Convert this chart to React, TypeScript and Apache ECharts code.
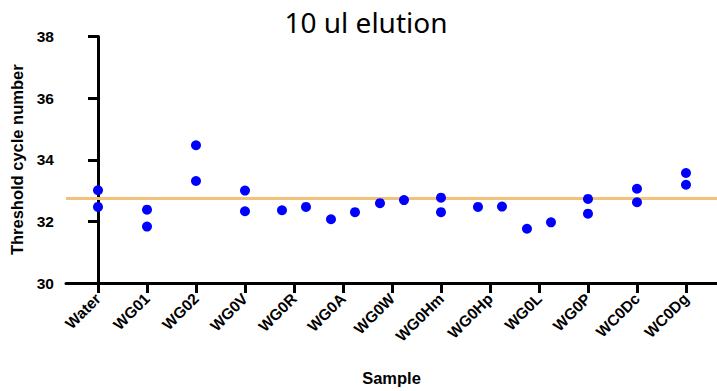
import React, { useEffect, useRef } from "react";
import * as echarts from "echarts";

const categories = ["Water", "WG01", "WG02", "WG0V", "WG0R", "WG0A", "WG0W", "WG0Hm", "WG0Hp", "WG0L", "WG0P", "WC0Dc", "WC0Dg"];
const replicateA = [33.01, 32.38, 34.47, 33.0, 32.36, 32.07, 32.59, 32.77, 32.47, 31.76, 32.73, 33.06, 33.57];
const replicateB = [32.47, 31.83, 33.31, 32.33, 32.47, 32.3, 32.69, 32.3, 32.48, 31.97, 32.25, 32.62, 33.19];
const thresholdValue = 32.76;
const yTicks = [30, 32, 34, 36, 38];

export default function App() {
  const ref = useRef<HTMLDivElement>(null);
  useEffect(() => {
    if (!ref.current) return;
    const chart = echarts.init(ref.current, undefined, { renderer: "svg" });
    const points: number[][] = [];
    const spread = 0.245;
    categories.forEach((_, i) => {
      const a = replicateA[i];
      const b = replicateB[i];
      if (Math.abs(a - b) < 0.35) {
        const lo = Math.min(a, b);
        const hi = Math.max(a, b);
        points.push([i - spread, lo]);
        points.push([i + spread, hi]);
      } else {
        points.push([i, a]);
        points.push([i, b]);
      }
    });
    const idx = categories.map((_, i) => i);
    const bold = { fontFamily: "Liberation Sans", fontWeight: "bold" as const, color: "#000" };
    chart.setOption({
      animation: false,
      title: {
        text: "10 ul elution",
        left: 361,
        textAlign: "center",
        top: 3,
        textStyle: { fontFamily: "Noto Sans", fontWeight: "normal", fontSize: 28, color: "#000" },
      },
      grid: { left: 66, right: 0, top: 36.5, bottom: 107.5, containLabel: false },
      xAxis: {
        type: "value",
        min: -0.653,
        max: 12.633,
        name: "Sample",
        nameLocation: "middle",
        nameGap: 86,
        nameTextStyle: { ...bold, fontSize: 16.5 },
        splitLine: { show: false },
        axisLine: { show: true, lineStyle: { color: "#000", width: 3 } },
        axisTick: { show: true, customValues: idx, length: 10, lineStyle: { color: "#000", width: 3 } },
        axisLabel: {
          customValues: idx,
          rotate: 45,
          margin: 13,
          ...bold,
          fontSize: 15.5,
          formatter: (v: number) => categories[Math.round(v)] ?? "",
        },
      },
      yAxis: {
        type: "value",
        min: 30,
        max: 38,
        interval: 2,
        name: "Threshold cycle number",
        nameLocation: "middle",
        nameGap: 38,
        nameTextStyle: { ...bold, fontSize: 16.5 },
        splitLine: { show: false },
        axisLine: { show: true, lineStyle: { color: "#000", width: 3 } },
        axisTick: { show: true, length: 10, lineStyle: { color: "#000", width: 3 } },
        axisLabel: {
          margin: 12,
          ...bold,
          fontSize: 15.5,
          formatter: (v: number) => (yTicks.includes(v) ? String(v) : ""),
        },
      },
      series: [
        {
          type: "scatter",
          data: points,
          symbol: "circle",
          symbolSize: 10,
          itemStyle: { color: "#0000FF", opacity: 1 },
          z: 3,
          markLine: {
            silent: true,
            symbol: "none",
            label: { show: false },
            lineStyle: { color: "#F2C27A", width: 3, type: "solid" },
            data: [{ yAxis: thresholdValue }],
            z: 1,
          },
        },
      ],
    });
    return () => chart.dispose();
  }, []);
  return <div ref={ref} style={{ width: 717, height: 391, position: "absolute", left: 0, top: 0 }} />;
}
